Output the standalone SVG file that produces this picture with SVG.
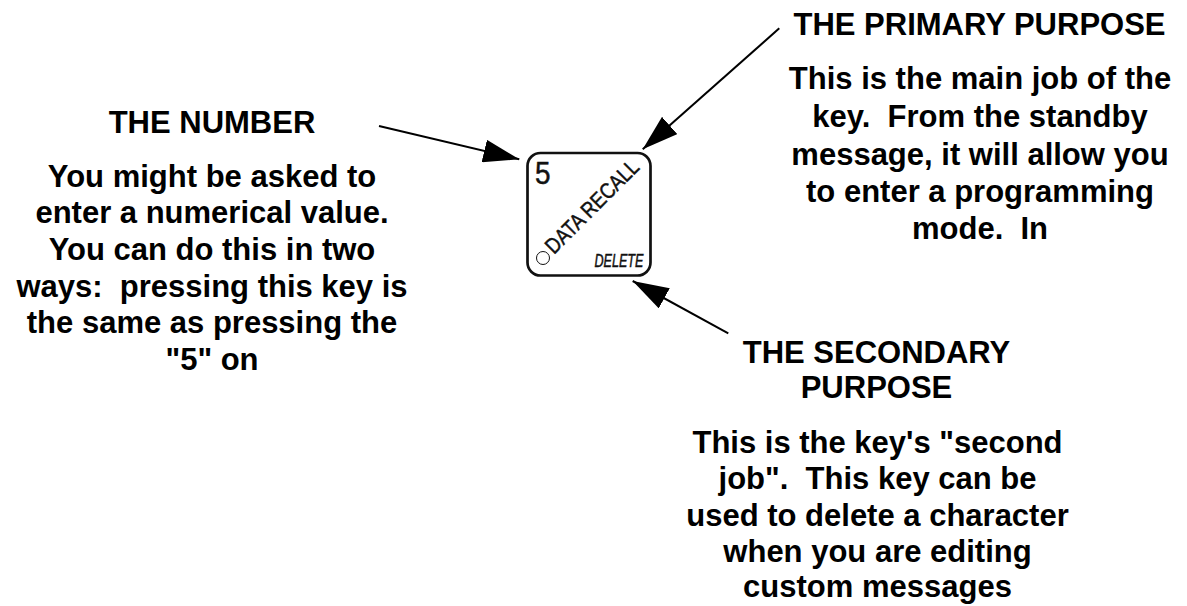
<svg xmlns="http://www.w3.org/2000/svg" width="1187" height="606" viewBox="0 0 1187 606">
<style>
.t{font-family:"Liberation Sans",Arial,sans-serif;font-weight:bold;font-size:31px;fill:#000;text-anchor:middle}
.k{font-family:"Liberation Sans",Arial,sans-serif;fill:#111;stroke:#111;stroke-width:0.5}
.c{stroke:#000;stroke-width:2;fill:none}
</style>
<defs>
<marker id="ah" viewBox="0 0 36 23" refX="36" refY="11.5" markerWidth="36" markerHeight="23" markerUnits="userSpaceOnUse" orient="auto">
<path d="M0,0 L36,11.5 L0,23 z" fill="#000"/>
</marker>
</defs>
<rect width="1187" height="606" fill="#fff"/>
<g id="connectors">
<line class="c" x1="379" y1="126" x2="519.3" y2="159.3" marker-end="url(#ah)"/>
<line class="c" x1="779.3" y1="28.3" x2="642.7" y2="149.3" marker-end="url(#ah)"/>
<line class="c" x1="728.3" y1="333.3" x2="632.7" y2="281" marker-end="url(#ah)"/>
</g>
<g id="key">
<rect x="527.5" y="153" width="123" height="122.5" rx="13" fill="#fff" stroke="#111" stroke-width="2.7"/>
<text class="k" font-size="31" transform="translate(535,184) scale(0.9,1)">5</text>
<text class="k" font-size="22" transform="translate(554,255) rotate(-45) scale(0.84,1)">DATA RECALL</text>
<circle cx="543" cy="258" r="6.5" fill="none" stroke="#111" stroke-width="1"/>
<text class="k" font-size="18" font-style="italic" transform="translate(594.5,266.5) scale(0.7,1)">DELETE</text>
</g>
<g id="number">
<text class="t" x="212" y="133">THE NUMBER</text>
<text class="t" x="212" y="186.7">You might be asked to</text>
<text class="t" x="212" y="223.3">enter a numerical value.</text>
<text class="t" x="212" y="260">You can do this in two</text>
<text class="t" x="212" y="296.7" xml:space="preserve">ways:  pressing this key is</text>
<text class="t" x="212" y="333.3">the same as pressing the</text>
<text class="t" x="212" y="370">"5" on</text>
</g>
<g id="primary">
<text class="t" x="979.5" y="35">THE PRIMARY PURPOSE</text>
<text class="t" x="980" y="89.3">This is the main job of the</text>
<text class="t" x="980" y="127" xml:space="preserve">key.  From the standby</text>
<text class="t" x="980" y="164.5">message, it will allow you</text>
<text class="t" x="980" y="202">to enter a programming</text>
<text class="t" x="980" y="239.3" xml:space="preserve">mode.  In</text>
</g>
<g id="secondary">
<text class="t" x="876.5" y="363">THE SECONDARY</text>
<text class="t" x="876.5" y="398">PURPOSE</text>
<text class="t" x="877.5" y="453">This is the key's "second</text>
<text class="t" x="877.5" y="489" xml:space="preserve">job".  This key can be</text>
<text class="t" x="877.5" y="525.5">used to delete a character</text>
<text class="t" x="877.5" y="561.5">when you are editing</text>
<text class="t" x="877.5" y="597">custom messages</text>
</g>
</svg>
